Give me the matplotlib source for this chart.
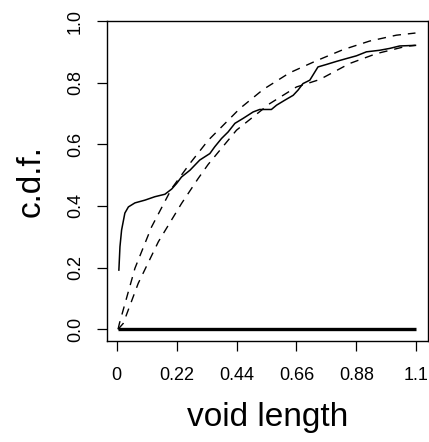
import matplotlib
matplotlib.use("Agg")
import matplotlib.pyplot as plt

plt.rcParams['font.family'] = ['Liberation Sans', 'DejaVu Sans']

# empirical c.d.f. of void length (solid)
emp_x = [0.008, 0.012, 0.018, 0.030, 0.043, 0.067, 0.104, 0.140, 0.177, 0.202,
         0.220, 0.238, 0.269, 0.305, 0.342, 0.360, 0.385, 0.409, 0.434, 0.464,
         0.501, 0.525, 0.568, 0.587, 0.617, 0.648, 0.666, 0.684, 0.709, 0.739,
         0.770, 0.807, 0.843, 0.880, 0.917, 0.965, 1.002, 1.039, 1.097]
emp_y = [0.192, 0.268, 0.322, 0.377, 0.397, 0.410, 0.419, 0.430, 0.438, 0.455,
         0.473, 0.494, 0.516, 0.549, 0.570, 0.592, 0.619, 0.640, 0.668, 0.684,
         0.705, 0.713, 0.713, 0.727, 0.743, 0.759, 0.776, 0.797, 0.808, 0.851,
         0.859, 0.869, 0.878, 0.887, 0.900, 0.905, 0.911, 0.919, 0.921]

# envelope curves (dashed)
upper_x = [0.005, 0.010, 0.067, 0.128, 0.202, 0.269, 0.336, 0.379, 0.452,
           0.538, 0.635, 0.733, 0.831, 0.929, 1.027, 1.097]
upper_y = [0.000, 0.019, 0.198, 0.332, 0.457, 0.538, 0.613, 0.651, 0.716,
           0.778, 0.832, 0.871, 0.907, 0.935, 0.954, 0.961]
lower_x = [0.005, 0.024, 0.079, 0.153, 0.238, 0.299, 0.336, 0.440, 0.562,
           0.660, 0.745, 0.855, 0.953, 1.063, 1.097]
lower_y = [0.000, 0.019, 0.149, 0.284, 0.408, 0.489, 0.535, 0.646, 0.732,
           0.786, 0.810, 0.862, 0.894, 0.918, 0.921]

# baseline at zero
zero_x = [0.005, 1.1]
zero_y = [0.0, 0.0]

xticks = [0, 0.22, 0.44, 0.66, 0.88, 1.1]
xtick_labels = ["0", "0.22", "0.44", "0.66", "0.88", "1.1"]
yticks = [0.0, 0.2, 0.4, 0.6, 0.8, 1.0]
ytick_labels = ["0.0", "0.2", "0.4", "0.6", "0.8", "1.0"]

fig = plt.figure(figsize=(4.29, 4.42), dpi=100)
ax = fig.add_axes([107 / 429, 1 - 341 / 442, 321 / 429, 320 / 442])

ax.plot(zero_x, zero_y, color="black", lw=2.4, solid_capstyle="butt")
ax.plot(upper_x, upper_y, color="black", lw=1.0, dashes=(6, 5))
ax.plot(lower_x, lower_y, color="black", lw=1.0, dashes=(6, 5))
ax.plot(emp_x, emp_y, color="black", lw=1.1)

ax.set_xlim(-0.0356, 1.143)
ax.set_ylim(-0.038, 1.0)

ax.set_xticks(xticks)
ax.set_xticklabels(xtick_labels)
ax.set_yticks(yticks)
ax.set_yticklabels(ytick_labels, rotation=90, va="center")
ax.tick_params(direction="out", length=7.5, width=0.9, labelsize=13)
ax.tick_params(axis="x", pad=11)
ax.tick_params(axis="y", pad=9)

for s in ax.spines.values():
    s.set_linewidth(1.0)

ax.set_xlabel("void length", fontsize=24, labelpad=13)
ax.set_ylabel("c.d.f.", fontsize=24, labelpad=15)

fig.savefig("out.png", dpi=100)
